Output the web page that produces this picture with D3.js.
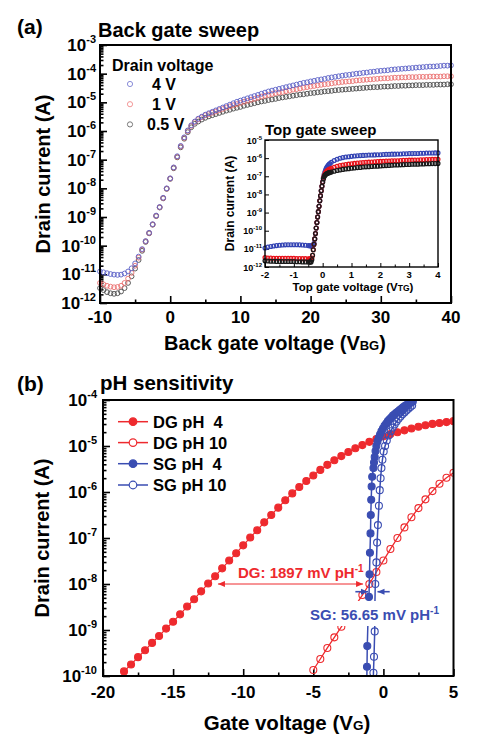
<!DOCTYPE html>
<html><head><meta charset="utf-8">
<script src="https://cdn.jsdelivr.net/npm/d3@7"></script>
<style>
body{margin:0;background:#fff}
text{font-family:"Liberation Sans",Arial,sans-serif;font-weight:bold;fill:#000}
</style>
</head><body>
<svg id="c" width="481" height="746"></svg>
<script>
// ---------- Panel (a): back gate sweep (log10 of drain current) ----------
const vBG = [-10,-9.5,-9,-8.5,-8,-7.5,-7,-6.5,-6,-5.5,-5,-4.5,-4,-3.5,-3,-2.5,-2,-1.5,-1,-0.5,
0,0.5,1,1.5,2,2.5,3,3.5,4,4.5,5,5.5,6,6.5,7,7.5,8,8.5,9,9.5,10,
10.5,11,11.5,12,12.5,13,13.5,14,14.5,15,15.5,16,16.5,17,17.5,18,18.5,19,19.5,20,
20.5,21,21.5,22,22.5,23,23.5,24,24.5,25,25.5,26,26.5,27,27.5,28,28.5,29,29.5,30,
30.5,31,31.5,32,32.5,33,33.5,34,34.5,35,35.5,36,36.5,37,37.5,38,38.5,39,39.5,40];
const logId4V = [-10.9,-10.93,-10.96,-10.99,-11.01,-11.02,-11.01,-10.97,-10.9,-10.79,
-10.62,-10.38,-10.12,-9.84,-9.55,-9.25,-8.95,-8.65,-8.33,-8.0,
-7.65,-7.27,-6.88,-6.52,-6.22,-5.98,-5.8,-5.67,-5.57,-5.5,
-5.43,-5.38,-5.33,-5.28,-5.23,-5.18,-5.13,-5.08,-5.03,-4.98,-4.94,
-4.9,-4.86,-4.82,-4.78,-4.74,-4.7,-4.66,-4.62,-4.59,-4.56,
-4.53,-4.5,-4.47,-4.44,-4.41,-4.38,-4.35,-4.32,-4.3,-4.27,
-4.25,-4.22,-4.2,-4.18,-4.15,-4.13,-4.11,-4.09,-4.07,-4.05,
-4.04,-4.02,-4.0,-3.99,-3.97,-3.96,-3.94,-3.93,-3.91,-3.9,
-3.89,-3.88,-3.86,-3.85,-3.84,-3.83,-3.82,-3.81,-3.8,-3.79,
-3.78,-3.77,-3.76,-3.75,-3.75,-3.74,-3.73,-3.72,-3.72,-3.71];
const logId1V = [-11.3,-11.35,-11.4,-11.43,-11.45,-11.44,-11.4,-11.3,-11.15,-10.95,
-10.7,-10.42,-10.14,-9.85,-9.56,-9.26,-8.96,-8.66,-8.34,-8.01,
-7.66,-7.28,-6.9,-6.54,-6.24,-6.0,-5.82,-5.69,-5.59,-5.52,
-5.45,-5.41,-5.36,-5.32,-5.27,-5.23,-5.18,-5.14,-5.1,-5.06,-5.02,
-4.98,-4.95,-4.91,-4.88,-4.84,-4.8,-4.77,-4.74,-4.71,-4.68,
-4.66,-4.64,-4.61,-4.59,-4.56,-4.54,-4.52,-4.49,-4.47,-4.45,
-4.43,-4.41,-4.39,-4.37,-4.36,-4.34,-4.32,-4.31,-4.29,-4.28,
-4.27,-4.26,-4.24,-4.23,-4.22,-4.21,-4.2,-4.19,-4.18,-4.17,
-4.16,-4.16,-4.15,-4.14,-4.14,-4.13,-4.13,-4.12,-4.12,-4.12,
-4.11,-4.11,-4.11,-4.1,-4.1,-4.1,-4.1,-4.09,-4.09,-4.09];
const logId05V = [-11.48,-11.55,-11.62,-11.66,-11.68,-11.66,-11.6,-11.48,-11.3,-11.07,
-10.8,-10.5,-10.18,-9.87,-9.57,-9.27,-8.97,-8.67,-8.35,-8.02,
-7.67,-7.3,-6.92,-6.57,-6.27,-6.04,-5.87,-5.75,-5.67,-5.6,
-5.54,-5.49,-5.45,-5.41,-5.37,-5.33,-5.29,-5.26,-5.22,-5.19,-5.16,
-5.12,-5.09,-5.06,-5.03,-5.0,-4.97,-4.95,-4.92,-4.9,-4.88,
-4.85,-4.83,-4.81,-4.79,-4.77,-4.75,-4.73,-4.72,-4.7,-4.68,
-4.67,-4.65,-4.64,-4.62,-4.61,-4.6,-4.58,-4.57,-4.56,-4.55,
-4.54,-4.53,-4.52,-4.51,-4.5,-4.49,-4.48,-4.47,-4.47,-4.46,
-4.45,-4.45,-4.44,-4.43,-4.43,-4.42,-4.42,-4.41,-4.41,-4.4,
-4.4,-4.4,-4.39,-4.39,-4.39,-4.38,-4.38,-4.38,-4.37,-4.37];
const xTicksA = [-10,0,10,20,30,40];
const xMinorA = [-5,5,15,25,35];
const yExpA = [-12,-11,-10,-9,-8,-7,-6,-5,-4,-3];
const legendA = ["4 V","1 V","0.5 V"];

// ---------- Inset: top gate sweep ----------
const vTG = [-2,-1.9,-1.8,-1.7,-1.6,-1.5,-1.4,-1.3,-1.2,-1.1,-1,-0.9,-0.8,-0.7,-0.6,-0.5,
-0.45,-0.425,-0.4,-0.375,-0.35,-0.325,-0.3,-0.275,-0.25,-0.225,-0.2,-0.175,-0.15,-0.125,-0.1,-0.075,-0.05,-0.025,0,0.025,0.05,0.075,0.1,0.125,0.15,0.175,0.2,0.225,0.25,
0.3,0.4,0.5,0.6,0.7,0.8,0.9,1,1.1,1.2,1.3,1.4,1.5,1.6,1.7,1.8,1.9,2,2.1,2.2,2.3,2.4,2.5,2.6,2.7,2.8,2.9,3,3.1,3.2,3.3,3.4,3.5,3.6,3.7,3.8,3.9,4];
const logTG4V = [-10.95,-10.9,-10.87,-10.84,-10.82,-10.8,-10.79,-10.78,-10.77,-10.77,-10.77,-10.77,-10.78,-10.79,-10.8,-10.82,
-10.83,-10.83,-10.84,-10.84,-10.84,-10.8,-10.7,-10.45,-10.15,-9.85,-9.55,-9.25,-8.95,-8.65,-8.35,-8.07,-7.8,-7.55,-7.3,-7.08,-6.9,-6.76,-6.65,-6.56,-6.49,-6.43,-6.38,-6.34,-6.3,
-6.23,-6.13,-6.06,-6.01,-5.97,-5.94,-5.92,-5.9,-5.88,-5.87,-5.86,-5.85,-5.84,-5.83,-5.83,-5.82,-5.81,-5.81,-5.8,-5.79,-5.79,-5.78,-5.78,-5.77,-5.77,-5.76,-5.76,-5.75,-5.75,-5.74,-5.74,-5.73,-5.73,-5.72,-5.72,-5.72,-5.71,-5.71];
const logTG1V = [-11.48,-11.5,-11.51,-11.52,-11.52,-11.52,-11.52,-11.52,-11.52,-11.52,-11.52,-11.53,-11.53,-11.54,-11.54,-11.55,
-11.55,-11.55,-11.55,-11.5,-11.35,-11.05,-10.75,-10.45,-10.15,-9.85,-9.55,-9.25,-8.95,-8.65,-8.35,-8.07,-7.8,-7.55,-7.32,-7.12,-6.98,-6.88,-6.8,-6.74,-6.7,-6.67,-6.64,-6.62,-6.6,
-6.56,-6.5,-6.45,-6.41,-6.38,-6.35,-6.33,-6.31,-6.29,-6.27,-6.26,-6.24,-6.23,-6.22,-6.21,-6.2,-6.19,-6.18,-6.17,-6.16,-6.16,-6.15,-6.14,-6.14,-6.13,-6.12,-6.12,-6.11,-6.11,-6.1,-6.1,-6.09,-6.09,-6.08,-6.08,-6.07,-6.07,-6.06];
const logTG05V = [-11.66,-11.67,-11.68,-11.68,-11.69,-11.69,-11.7,-11.7,-11.7,-11.7,-11.7,-11.71,-11.71,-11.72,-11.72,-11.73,
-11.73,-11.73,-11.72,-11.6,-11.35,-11.05,-10.75,-10.45,-10.15,-9.85,-9.55,-9.25,-8.95,-8.65,-8.35,-8.07,-7.8,-7.55,-7.33,-7.15,-7.02,-6.95,-6.9,-6.87,-6.85,-6.83,-6.81,-6.8,-6.79,
-6.76,-6.72,-6.68,-6.65,-6.62,-6.6,-6.58,-6.56,-6.54,-6.52,-6.51,-6.49,-6.48,-6.47,-6.46,-6.45,-6.44,-6.43,-6.42,-6.41,-6.4,-6.39,-6.38,-6.38,-6.37,-6.36,-6.35,-6.35,-6.34,-6.33,-6.33,-6.32,-6.32,-6.31,-6.31,-6.3,-6.3,-6.29];
const xTicksI = [-2,-1,0,1,2,3,4];
const xMinorI = [-1.5,-0.5,0.5,1.5,2.5,3.5];
const yExpI = [-12,-11,-10,-9,-8,-7,-6,-5];

// ---------- Panel (b): pH sensitivity ----------
const vDG4 = [-18.5,-18,-17.5,-17,-16.5,-16,-15.5,-15,-14.5,-14,-13.5,-13,-12.5,-12,-11.5,-11,-10.5,-10,-9.5,-9,-8.5,-8,-7.5,-7,-6.5,-6,-5.5,-5,-4.5,-4,-3.5,-3,-2.5,-2,-1.5,-1,-0.5,0,0.5,1,1.5,2,2.5,3,3.5,4,4.5,5];
const logDG4 = [-9.9,-9.75,-9.59,-9.44,-9.28,-9.13,-8.97,-8.82,-8.66,-8.49,-8.33,-8.16,-7.99,-7.83,-7.66,-7.49,-7.33,-7.16,-6.99,-6.83,-6.66,-6.5,-6.34,-6.18,-6.03,-5.89,-5.76,-5.64,-5.52,-5.41,-5.31,-5.22,-5.13,-5.05,-4.98,-4.91,-4.85,-4.79,-4.74,-4.7,-4.66,-4.62,-4.58,-4.55,-4.52,-4.5,-4.48,-4.46];
const vDG10 = [-5,-4.5,-4,-3.5,-3,-2.5,-2,-1.5,-1,-0.5,0,0.5,1,1.5,2,2.5,3,3.5,4,4.5,5];
const logDG10 = [-9.87,-9.63,-9.39,-9.16,-8.93,-8.7,-8.47,-8.24,-8.0,-7.74,-7.49,-7.24,-7.0,-6.77,-6.55,-6.35,-6.16,-5.98,-5.82,-5.69,-5.58];
const vSG4 = [-1.19,-1.17,-1.15,-1.1,-1.03,-0.99,-0.96,-0.92,-0.9,-0.87,-0.84,-0.8,-0.71,-0.67,-0.62,-0.56,-0.5,-0.42,-0.33,-0.24,-0.14,-0.03,0.08,0.2,0.32,0.44,0.56,0.68,0.8,0.92,1.04,1.16,1.28,1.4,1.52,1.64,1.76,1.88,2.0,2.1];
const logSG4 = [-10.25,-9.8,-9.35,-8.8,-8.28,-7.79,-7.32,-6.9,-6.5,-6.17,-5.88,-5.67,-5.48,-5.36,-5.24,-5.11,-5.0,-4.9,-4.82,-4.75,-4.68,-4.62,-4.56,-4.51,-4.46,-4.42,-4.38,-4.34,-4.31,-4.28,-4.25,-4.22,-4.19,-4.16,-4.13,-4.11,-4.09,-4.07,-4.05,-4.03];
const vSG10 = [-0.73,-0.71,-0.67,-0.62,-0.61,-0.58,-0.5,-0.45,-0.39,-0.32,-0.26,-0.2,-0.14,-0.07,0.02,0.12,0.24,0.38,0.52,0.66,0.8,0.94,1.08,1.22,1.36,1.5,1.64,1.78,1.92,2.05];
const logSG10 = [-10.25,-9.93,-9.58,-9.03,-8.5,-8.0,-7.53,-7.1,-6.72,-6.3,-5.96,-5.7,-5.48,-5.3,-5.12,-5.0,-4.88,-4.77,-4.68,-4.6,-4.53,-4.47,-4.41,-4.36,-4.31,-4.27,-4.23,-4.19,-4.15,-4.12];
const xTicksB = [-20,-15,-10,-5,0,5];
const xMinorB = [-17.5,-12.5,-7.5,-2.5,2.5];
const yExpB = [-10,-9,-8,-7,-6,-5,-4];
const legendB = ["DG pH\u00a0\u00a04","DG pH 10","SG pH\u00a0\u00a04","SG pH 10"];
// annotation values (gate voltage, current)
const dgArrow = {y:1e-8, from:-11.8, to:-1.45};
const sgArrowY = 6.8e-9;
const sgArrowL = {tail:-2.0, tip:-1.1};
const sgArrowR = {tail:0.45, tip:-0.42};

// ---------- drawing ----------
const svg = d3.select("#c");
const toPts = (xs, ls) => xs.map((v,i)=>({x:v, y:Math.pow(10, ls[i])}));

function supLabel(g, x, y, base, exp, fs, sfs, dy, anchor){
  const t = g.append("text").attr("x",x).attr("y",y).attr("text-anchor",anchor||"end").style("font-size",fs+"px");
  t.append("tspan").text(base);
  t.append("tspan").attr("dy",-dy).style("font-size",sfs+"px").text(exp);
  return t;
}

function axes(x, y, o){
  const [x0,x1] = x.range(), [y0,y1] = y.range();
  const g = svg.append("g");
  g.append("rect").attr("x",x0).attr("y",y1).attr("width",x1-x0).attr("height",y0-y1)
    .attr("fill","#fff").attr("stroke","none");
  const mk = (sel)=>{ sel.select(".domain").remove(); sel.selectAll("line").attr("stroke","#000").attr("stroke-width",o.tw); };
  g.append("g").attr("transform",`translate(0,${y0})`)
    .call(d3.axisBottom(x).tickValues(o.xMajor).tickSize(-o.maj).tickFormat("")).call(mk);
  g.append("g").attr("transform",`translate(0,${y0})`)
    .call(d3.axisBottom(x).tickValues(o.xMinor).tickSize(-o.min).tickFormat("")).call(mk);
  const yMaj = o.yExp.map(e=>Math.pow(10,e));
  g.append("g").attr("transform",`translate(${x0},0)`)
    .call(d3.axisLeft(y).tickValues(yMaj).tickSize(-o.maj).tickFormat("")).call(mk);
  if(o.yMinor){
    const minor = y.ticks().filter(v=>Math.abs(Math.log10(v)-Math.round(Math.log10(v)))>1e-6);
    g.append("g").attr("transform",`translate(${x0},0)`)
      .call(d3.axisLeft(y).tickValues(minor).tickSize(-o.min).tickFormat("")).call(mk);
  }
  o.xMajor.forEach(v=>{
    g.append("text").attr("x",x(v)).attr("y",y0+o.xLabDy).attr("text-anchor","middle")
      .style("font-size",o.xfs+"px").text(String(v));
  });
  o.yExp.forEach(e=>{
    supLabel(g, x0-o.yLabDx, y(Math.pow(10,e))+o.yLabDy, "10", String(e), o.yfs, o.ysfs, o.supDy);
  });
  return g;
}
function frame(x,y,sw){
  const [x0,x1] = x.range(), [y0,y1] = y.range();
  svg.append("rect").attr("x",x0).attr("y",y1).attr("width",x1-x0).attr("height",y0-y1)
    .attr("fill","none").attr("stroke","#000").attr("stroke-width",sw);
}

// ===== Panel (a) =====
const xA = d3.scaleLinear().domain([-10,40]).range([100,451]);
const yA = d3.scaleLog().domain([1e-12,1e-3]).range([303,45]);
axes(xA,yA,{xMajor:xTicksA,xMinor:xMinorA,yExp:yExpA,maj:7,min:3.5,tw:1.6,yMinor:true,
  xLabDy:20,xfs:17,yLabDx:4,yLabDy:6,yfs:17,ysfs:11,supDy:8});
const colA = ["#5a60c6","#ea6f6f","#4a4a4a"];
[[logId05V,colA[2]],[logId1V,colA[1]],[logId4V,colA[0]]].forEach(([ls,c])=>{
  svg.append("g").selectAll("circle").data(toPts(vBG,ls)).join("circle")
    .attr("cx",d=>xA(d.x)).attr("cy",d=>yA(d.y)).attr("r",2.4)
    .attr("fill","none").attr("stroke",c).attr("stroke-width",0.9);
});
frame(xA,yA,2);
svg.append("text").attr("x",17).attr("y",34).style("font-size","21px").text("(a)");
svg.append("text").attr("x",98).attr("y",37).style("font-size","20px").text("Back gate sweep");
svg.append("text").attr("transform","translate(50,174) rotate(-90)").attr("text-anchor","middle")
  .style("font-size","20px").text("Drain current (A)");
{
  const t = svg.append("text").attr("x",275).attr("y",350).attr("text-anchor","middle").style("font-size","20px");
  t.append("tspan").text("Back gate voltage (V");
  t.append("tspan").style("font-size","13px").text("BG");
  t.append("tspan").text(")");
}
// legend (a)
svg.append("text").attr("x",112).attr("y",71).style("font-size","16px").text("Drain voltage");
const legColA = ["#7d80d4","#f08a8a","#6a6a6a"];
const legX = [152,152,147];
legendA.forEach((s,i)=>{
  const cy = 84 + i*20.2;
  svg.append("circle").attr("cx",130).attr("cy",cy).attr("r",2.6).attr("fill","none")
    .attr("stroke",legColA[i]).attr("stroke-width",0.9);
  svg.append("text").attr("x",legX[i]).attr("y",cy+6).style("font-size","16px").text(s);
});

// ===== Inset =====
const xI = d3.scaleLinear().domain([-2,4]).range([265,438]);
const yI = d3.scaleLog().domain([1e-12,1e-5]).range([267,140]);
axes(xI,yI,{xMajor:xTicksI,xMinor:xMinorI,yExp:yExpI,maj:4,min:2.5,tw:1,yMinor:false,
  xLabDy:10.5,xfs:9.5,yLabDx:3,yLabDy:3.5,yfs:9,ysfs:6,supDy:4});
const colI = ["#3444b4","#e8141c","#1a1a1a"];
[[logTG4V,colI[0]],[logTG1V,colI[1]],[logTG05V,colI[2]]].forEach(([ls,c])=>{
  svg.append("g").selectAll("circle").data(toPts(vTG,ls)).join("circle")
    .attr("cx",d=>xI(d.x)).attr("cy",d=>yI(d.y)).attr("r",1.9)
    .attr("fill","none").attr("stroke",c).attr("stroke-width",1.3);
});
frame(xI,yI,1.4);
svg.append("text").attr("x",265).attr("y",135).style("font-size","15px").text("Top gate sweep");
svg.append("text").attr("transform","translate(234,203.5) rotate(-90)").attr("text-anchor","middle")
  .style("font-size","12px").text("Drain current (A)");
{
  const t = svg.append("text").attr("x",353).attr("y",290.5).attr("text-anchor","middle").style("font-size","11.5px");
  t.append("tspan").text("Top gate voltage (V");
  t.append("tspan").style("font-size","8.5px").text("TG");
  t.append("tspan").text(")");
}

// ===== Panel (b) =====
const xB = d3.scaleLinear().domain([-20,5]).range([103,453.5]);
const yB = d3.scaleLog().domain([1e-10,1e-4]).range([676,400]);
axes(xB,yB,{xMajor:xTicksB,xMinor:xMinorB,yExp:yExpB,maj:7,min:3.5,tw:1.6,yMinor:true,
  xLabDy:21.5,xfs:17,yLabDx:6,yLabDy:6,yfs:17,ysfs:11,supDy:8});
const RED = "#ee2a2e", BLUE = "#3a4db2";
svg.append("clipPath").attr("id","clipB").append("rect")
  .attr("x",103).attr("y",400).attr("width",350.5).attr("height",276);
const gB = svg.append("g").attr("clip-path","url(#clipB)");
const line = d3.line().x(d=>xB(d.x)).y(d=>yB(d.y));
function series(xs, ls, color, filled, lw){
  const pts = toPts(xs, ls);
  gB.append("path").datum(pts).attr("d",line).attr("fill","none").attr("stroke",color).attr("stroke-width",lw);
  gB.append("g").selectAll("circle").data(pts).join("circle")
    .attr("cx",d=>xB(d.x)).attr("cy",d=>yB(d.y)).attr("r",3.5)
    .attr("fill",filled?color:"none").attr("stroke",color).attr("stroke-width",1.1);
}
series(vDG4, logDG4, RED, true, 1.2);
series(vDG10, logDG10, RED, false, 1.3);
series(vSG10, logSG10, BLUE, false, 1.5);
series(vSG4, logSG4, BLUE, true, 1.5);

// annotations
function arrowHead(x, y, dir, color){
  svg.append("path").attr("d",`M${x},${y} L${x-dir*7},${y-3} L${x-dir*7},${y+3} Z`).attr("fill",color);
}
{
  const yy = yB(dgArrow.y), xa = xB(dgArrow.from), xb = xB(dgArrow.to);
  svg.append("line").attr("x1",xa).attr("x2",xb).attr("y1",yy).attr("y2",yy).attr("stroke",RED).attr("stroke-width",1);
  arrowHead(xa,yy,-1,RED); arrowHead(xb,yy,1,RED);
  const yy2 = yB(sgArrowY);
  svg.append("line").attr("x1",xB(sgArrowL.tail)).attr("x2",xB(sgArrowL.tip)).attr("y1",yy2).attr("y2",yy2).attr("stroke",BLUE).attr("stroke-width",1.6);
  arrowHead(xB(sgArrowL.tip),yy2,1,BLUE);
  svg.append("line").attr("x1",xB(sgArrowR.tail)).attr("x2",xB(sgArrowR.tip)).attr("y1",yy2).attr("y2",yy2).attr("stroke",BLUE).attr("stroke-width",1.6);
  arrowHead(xB(sgArrowR.tip),yy2,-1,BLUE);
}
{
  const t = svg.append("text").attr("x",238).attr("y",578).style("font-size","15px").style("fill",RED);
  t.append("tspan").text("DG: 1897 mV pH");
  t.append("tspan").attr("dy",-6).style("font-size","10px").text("-1");
}
svg.append("rect").attr("x",306).attr("y",601).attr("width",131).attr("height",25).attr("fill","#fff");
{
  const t = svg.append("text").attr("x",310).attr("y",620).style("font-size","15px").style("fill",BLUE);
  t.append("tspan").text("SG: 56.65 mV pH");
  t.append("tspan").attr("dy",-6).style("font-size","10px").text("-1");
}
frame(xB,yB,2);
svg.append("text").attr("x",17).attr("y",391).style("font-size","21px").text("(b)");
svg.append("text").attr("x",100).attr("y",390).style("font-size","20.5px").text("pH sensitivity");
svg.append("text").attr("transform","translate(49,538) rotate(-90)").attr("text-anchor","middle")
  .style("font-size","20px").text("Drain current (A)");
{
  const t = svg.append("text").attr("x",287).attr("y",730).attr("text-anchor","middle").style("font-size","20.5px");
  t.append("tspan").text("Gate voltage (V");
  t.append("tspan").style("font-size","13.5px").text("G");
  t.append("tspan").text(")");
}
// legend (b)
const legColB = [RED,RED,BLUE,BLUE], legFill = [true,false,true,false];
const legY = [421.7,442.6,463.7,485];
legendB.forEach((s,i)=>{
  const cy = legY[i];
  svg.append("line").attr("x1",118).attr("x2",148).attr("y1",cy).attr("y2",cy).attr("stroke",legColB[i]).attr("stroke-width",1.5);
  svg.append("circle").attr("cx",133).attr("cy",cy).attr("r",3.8)
    .attr("fill",legFill[i]?legColB[i]:"#fff").attr("stroke",legColB[i]).attr("stroke-width",1.2);
  svg.append("text").attr("x",153).attr("y",cy+6).style("font-size","16.5px").text(s);
});
</script>
</body></html>
